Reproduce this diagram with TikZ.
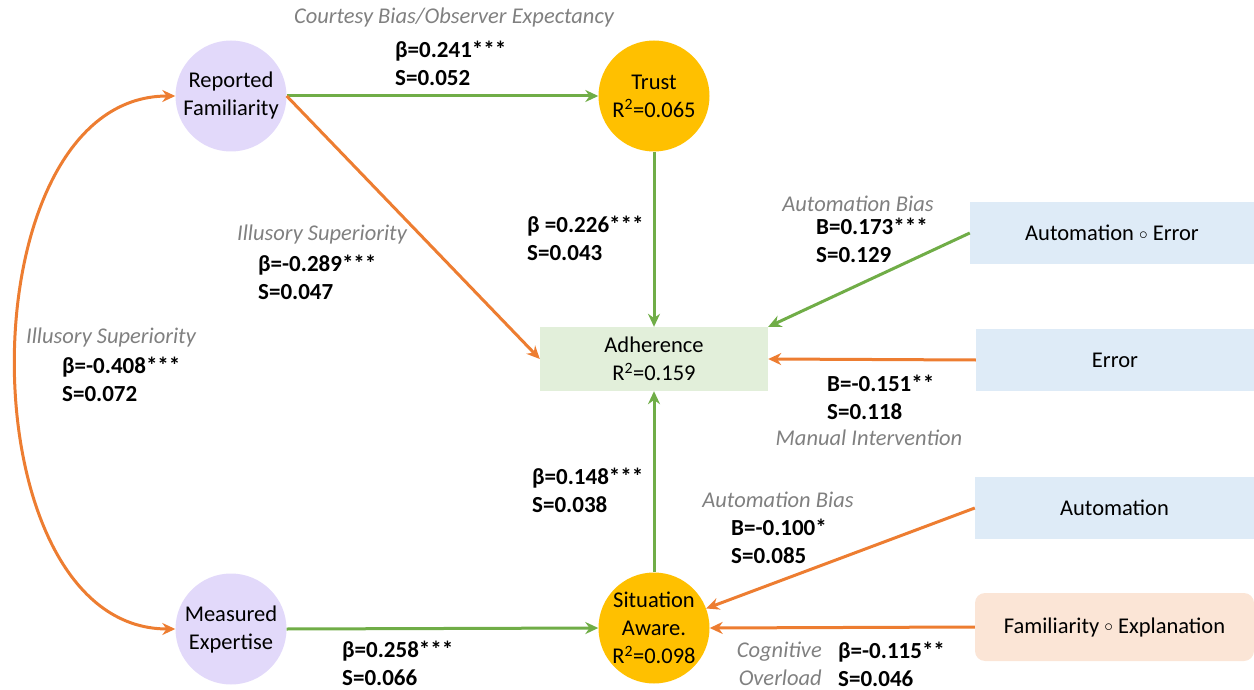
\documentclass[tikz,border=0pt]{standalone}
\usepackage{fontspec}
\setmainfont{Carlito}
\usetikzlibrary{arrows.meta}
\definecolor{cgreen}{HTML}{70AD47}
\definecolor{corange}{HTML}{ED7D31}
\definecolor{cgold}{HTML}{FFC000}
\definecolor{clav}{HTML}{E2D9FA}
\definecolor{cmint}{HTML}{E2EFDA}
\definecolor{cblue}{HTML}{DEEBF7}
\definecolor{cpeach}{HTML}{FBE5D6}
\definecolor{cgray}{HTML}{808080}
\newcommand{\smallcirc}{\raisebox{1.5pt}{\fontsize{17}{17}\selectfont$\circ$}}
\tikzset{
  base/.style={font=\fontsize{22.5}{28}\selectfont, align=center, inner sep=0pt},
  latent/.style={base, circle, minimum size=111pt},
  lavnode/.style={latent, fill=clav},
  goldnode/.style={latent, fill=cgold},
  boxnode/.style={base, rectangle, fill=cblue, minimum height=62pt},
  coef/.style={base, align=left, anchor=west, font=\fontsize{23}{28}\selectfont\bfseries},
  bias/.style={base, font=\fontsize{22.5}{28}\selectfont\itshape, text=cgray},
  conn/.style={line width=3pt, -{Stealth[length=13pt,width=12pt]}},
  posedge/.style={conn, cgreen},
  negedge/.style={conn, corange},
}
\begin{document}
\begin{tikzpicture}[x=1pt,y=-1pt]
\useasboundingbox (0,0) rectangle (1254,690);
% nodes
\node[lavnode] (rf) at (231,96) {Reported\\Familiarity};
\node[goldnode] (tr) at (654,96) {Trust\\R\textsuperscript{2}=0.065};
\node[lavnode] (me) at (231,629) {Measured\\Expertise};
\node[goldnode] (sa) at (654,628) {Situation\\Aware.\\R\textsuperscript{2}=0.098};
\node[base, rectangle, fill=cmint, minimum width=228pt, minimum height=64pt] (ad) at (654,359) {Adherence\\R\textsuperscript{2}=0.159};
\node[boxnode, minimum width=284pt] (ae) at (1112,233) {Automation \smallcirc{} Error};
\node[boxnode, minimum width=278pt] (er) at (1115,360) {Error};
\node[boxnode, minimum width=279pt] (au) at (1114.5,508) {Automation};
\node[base, rectangle, rounded corners=10pt, fill=cpeach, minimum width=279pt, minimum height=68pt] (fe) at (1114.5,627) {Familiarity \smallcirc{} Explanation};
% connectors
\draw[posedge] (rf.east) -- (tr.west);
\draw[negedge] (rf.east) -- (ad.west);
\draw[posedge] (tr.south) -- (ad.north);
\draw[posedge] (ae.west) -- (ad.north east);
\draw[negedge] (er.west) -- (ad.east);
\draw[posedge] (sa.north) -- (ad.south);
\draw[negedge] (au.west) -- (sa);
\draw[negedge] (fe.west) -- (sa.east);
\draw[posedge] (me.east) -- (sa.west);
\draw[negedge, {Stealth[length=13pt,width=12pt]}-{Stealth[length=13pt,width=12pt]}] (rf.west) to[out=180,in=180,looseness=1.02] (me.west);
% labels
\node[bias] (l1) at (454,18) {Courtesy Bias/Observer Expectancy};
\node[coef] (c1) at (395,63) {β=0.241***\\S=0.052};
\node[bias] (l2) at (322,235) {Illusory Superiority};
\node[coef] (c2) at (258,277) {β=-0.289***\\S=0.047};
\node[coef] (c3) at (527,238) {β =0.226***\\S=0.043};
\node[bias] (l3) at (858,204) {Automation Bias};
\node[coef] (c4) at (816,240) {B=0.173***\\S=0.129};
\node[bias] (l4) at (111,338) {Illusory Superiority};
\node[coef] (c5) at (62,379) {β=-0.408***\\S=0.072};
\node[coef] (c6) at (827,397) {B=-0.151**\\S=0.118};
\node[bias] (l5) at (869,438) {Manual Intervention};
\node[coef] (c7) at (532,490) {β=0.148***\\S=0.038};
\node[bias] (l6) at (778,500) {Automation Bias};
\node[coef] (c8) at (731,541) {B=-0.100*\\S=0.085};
\node[coef] (c9) at (342,663) {β=0.258***\\S=0.066};
\node[bias, align=right, anchor=east] (l7) at (822,664) {Cognitive\\Overload};
\node[coef] (c10) at (838,664) {β=-0.115**\\S=0.046};
\end{tikzpicture}
\end{document}
